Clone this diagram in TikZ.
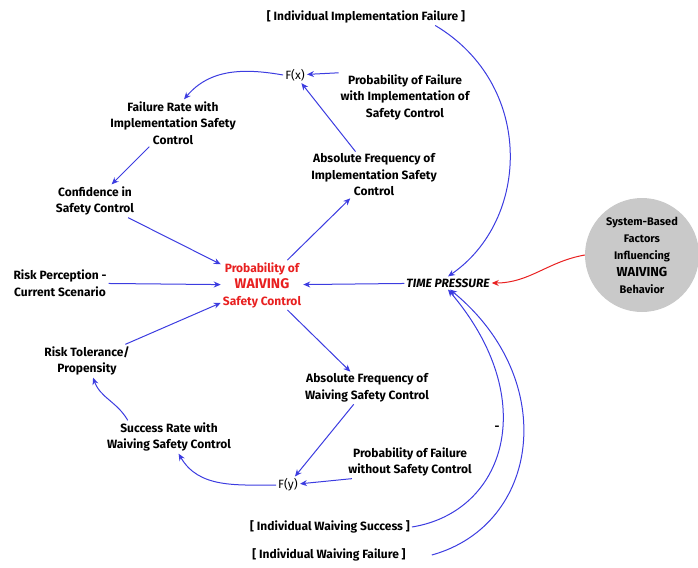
\documentclass[tikz,border=0pt]{standalone}
\usepackage{fontspec}
\setmainfont{Fira Sans}
\usetikzlibrary{arrows.meta}
\definecolor{linkblue}{RGB}{60,60,224}
\definecolor{waivered}{RGB}{232,32,32}
\begin{document}
\begin{tikzpicture}
  [x=1pt,y=-1pt,>={Stealth[length=7pt,width=6pt]},
   lbl/.style={align=center,inner sep=2pt,font=\bfseries\fontsize{12}{16.5}\selectfont},
   link/.style={linkblue,line width=1pt,->},]

\useasboundingbox (0,0) rectangle (698,567);

\node[lbl] (impfail) at (366,17) {[ Individual Implementation Failure ]};
\node[lbl,font=\fontsize{12}{16.5}\selectfont] (fx) at (295,75) {F(x)};
\node[lbl] (pfimp) at (405,97) {Probability of Failure\\with Implementation of\\Safety Control};
\node[lbl] (frate) at (173,123) {Failure Rate with\\Implementation Safety\\Control};
\node[lbl] (afimp) at (374,175) {Absolute Frequency of\\Implementation Safety\\Control};
\node[lbl] (conf) at (95,201) {Confidence in\\Safety Control};
\node[lbl,text=waivered] (pwaive) at (262,285) {Probability of\\{\fontsize{14}{17}\selectfont WAIVING}\\Safety Control};
\node[lbl] (riskperc) at (60,283) {Risk Perception -\\Current Scenario};
\node[lbl,font=\bfseries\itshape\fontsize{12}{16.5}\selectfont] (timep) at (448,283) {TIME PRESSURE};
\node[lbl,circle,fill=gray!42,minimum size=114pt,font=\bfseries\fontsize{11}{17}\selectfont] (sysfac) at (642,255) {System-Based\\Factors\\Influencing\\{\fontsize{13}{17}\selectfont WAIVING}\\Behavior};
\node[lbl] (risktol) at (87,361) {Risk Tolerance/\\Propensity};
\node[lbl] (afwaive) at (367,388) {Absolute Frequency of\\Waiving Safety Control};
\node[lbl] (srate) at (169,437) {Success Rate with\\Waiving Safety Control};
\node[lbl] (pfwo) at (410,462) {Probability of Failure\\without Safety Control};
\node[lbl,font=\fontsize{12}{16.5}\selectfont] (fy) at (288,485) {F(y)};
\node[lbl] (wsucc) at (330,527) {[ Individual Waiving Success ]};
\node[lbl] (wfail) at (329,555) {[ Individual Waiving Failure ]};
\node[lbl] (minus) at (497,428) {-};

\draw[link] (fx.west) to[out=170,in=50] (frate.65);
\draw[link] (pfimp.160) -- (fx);
\draw[link] (afimp) -- (fx);
\draw[link] (frate) -- (conf);
\draw[link] (conf) -- (pwaive);
\draw[link] (pwaive) -- (afimp);
\draw[link] (riskperc) -- (pwaive);
\draw[link] (timep) -- (pwaive);
\draw[link] (risktol) -- (pwaive);
\draw[link] (pwaive) -- (afwaive);
\draw[link] (afwaive) -- (fy);
\draw[link] (pfwo.196) -- (fy);
\draw[link] (fy.west) to[out=180,in=-60] (srate.-60);
\draw[link] (srate.158) to[out=120,in=-70] (risktol.-70);
\draw[link] ([xshift=-32pt]impfail.south east) .. controls (535,85) and (530,220) .. (timep.north);
\draw[waivered,line width=1pt,->] (sysfac.west) to[out=190,in=0] (timep.east);
\draw[link] (wsucc.east) .. controls (505,512) and (542,400) .. (timep.south);
\draw[link] ([xshift=24pt]wfail.east) .. controls (540,525) and (560,380) .. ([xshift=2pt]timep.south);

\end{tikzpicture}
\end{document}
